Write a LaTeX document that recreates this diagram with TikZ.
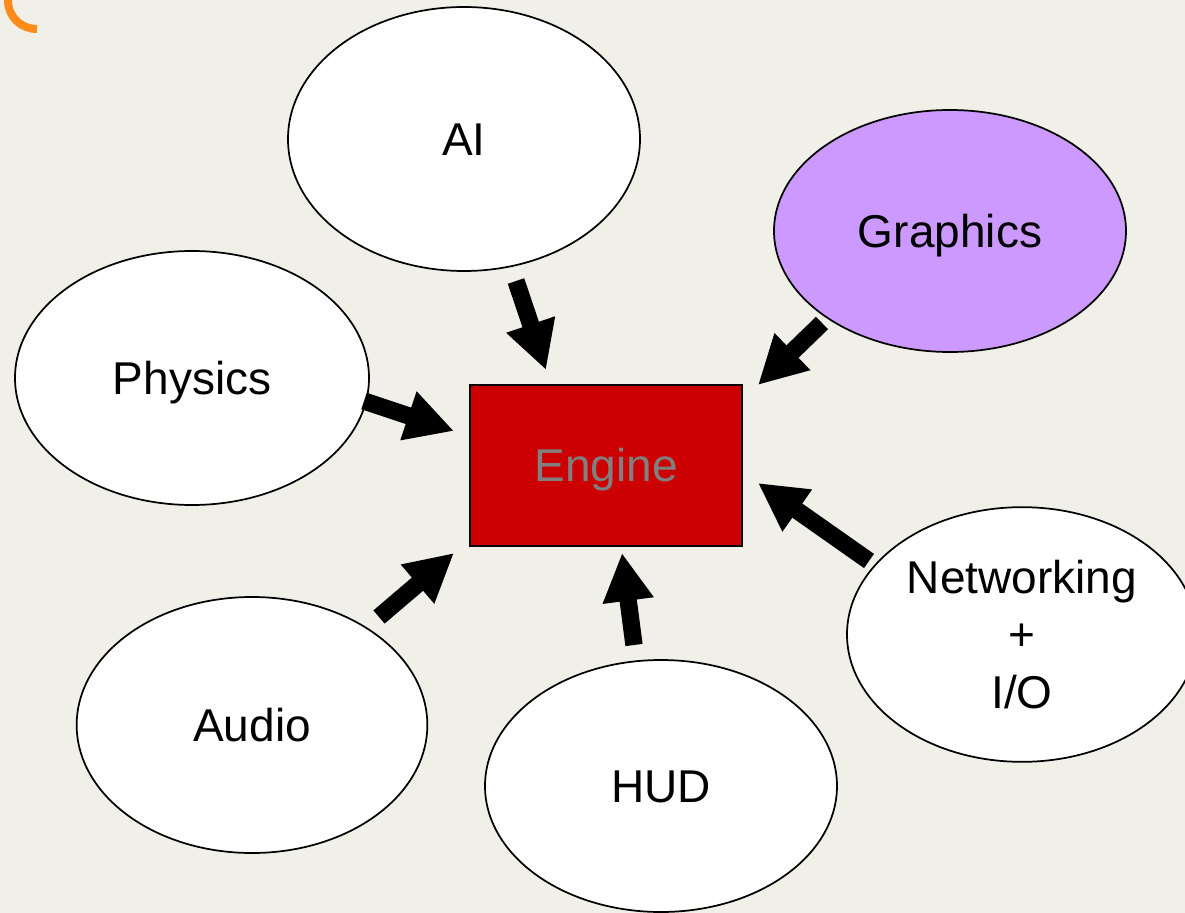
\documentclass[tikz,border=0pt]{standalone}
\usepackage{fontspec}
\setmainfont{Liberation Sans}
\usetikzlibrary{arrows.meta,shapes.geometric}

\definecolor{paper}{RGB}{241,240,232}
\definecolor{lilac}{RGB}{204,153,255}
\definecolor{enginered}{RGB}{204,0,0}
\definecolor{enginetext}{RGB}{128,128,128}
\definecolor{accent}{RGB}{255,140,26}

\tikzset{
  label font/.style={font=\fontsize{34.5}{43}\selectfont, text height=24.7pt, text depth=0pt},
  bubble/.style={ellipse, draw=black, line width=1.3pt, fill=white, inner sep=0pt,
    label font, align=center},
  corebox/.style={rectangle, draw=black, line width=1.3pt, fill=enginered, inner sep=0pt,
    minimum width=204pt, minimum height=120.75pt,
    text=enginetext, label font},
  feed/.style={line width=13pt, -{Triangle[length=36pt,width=36pt]}},
}

\begin{document}
\begin{tikzpicture}[x=0.75pt, y=-0.75pt]
  % page and its margins
  \fill[paper] (0,0) rectangle (1185,913);
  \useasboundingbox (0,0) rectangle (1185,913);

  % corner ornament
  \draw[accent, line width=6pt] (8,0) .. controls (8,17) and (21,29) .. (37,29);

  % subsystems
  \node[bubble, minimum width=264pt, minimum height=198pt] (ai) at (464,139) {AI};
  \node[bubble, fill=lilac, minimum width=264pt, minimum height=181.5pt] (gfx) at (950,231) {Graphics};
  \node[bubble, minimum width=265.5pt, minimum height=190.5pt] (phys) at (192,378) {Physics};
  \node[bubble, text height=110.7pt, minimum width=262.5pt, minimum height=191pt] (net) at (1022,634.5) {Networking\\+\\I/O};
  \node[bubble, minimum width=263pt, minimum height=192pt] (audio) at (252,725) {Audio};
  \node[bubble, minimum width=264pt, minimum height=189pt] (hud) at (661,786) {HUD};

  % core
  \node[corebox] (engine) at (606,465.5) {Engine};

  % arrow ends
  \coordinate (aiT) at (516,281);   \coordinate (aiH) at (546,370);
  \coordinate (gfxT) at (822,323);  \coordinate (gfxH) at (758,385);
  \coordinate (physT) at (364,401); \coordinate (physH) at (454,431);
  \coordinate (netT) at (869,561);  \coordinate (netH) at (758,483);
  \coordinate (hudT) at (634,645);  \coordinate (hudH) at (622,553);
  \coordinate (audT) at (379,617);  \coordinate (audH) at (454,553);

  % feeds into the engine
  \draw[feed] (aiT) -- (aiH);
  \draw[feed] (gfxT) -- (gfxH);
  \draw[feed] (physT) -- (physH);
  \draw[feed] (netT) -- (netH);
  \draw[feed] (hudT) -- (hudH);
  \draw[feed] (audT) -- (audH);
\end{tikzpicture}
\end{document}
